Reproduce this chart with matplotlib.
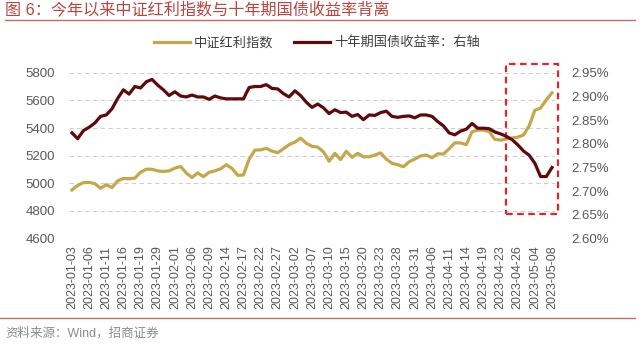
import matplotlib
matplotlib.use("Agg")
import matplotlib.pyplot as plt
from matplotlib.patches import Rectangle

plt.rcParams['font.family'] = ['Liberation Sans', 'Noto Sans CJK SC', 'DejaVu Sans']

# trading days, 2023
dates = [
    "2023-01-03", "2023-01-04", "2023-01-05", "2023-01-06", "2023-01-09", "2023-01-10",
    "2023-01-11", "2023-01-12", "2023-01-13", "2023-01-16", "2023-01-17", "2023-01-18",
    "2023-01-19", "2023-01-20", "2023-01-28", "2023-01-29", "2023-01-30", "2023-01-31",
    "2023-02-01", "2023-02-02", "2023-02-03", "2023-02-06", "2023-02-07", "2023-02-08",
    "2023-02-09", "2023-02-10", "2023-02-13", "2023-02-14", "2023-02-15", "2023-02-16",
    "2023-02-17", "2023-02-20", "2023-02-21", "2023-02-22", "2023-02-23", "2023-02-24",
    "2023-02-27", "2023-02-28", "2023-03-01", "2023-03-02", "2023-03-03", "2023-03-06",
    "2023-03-07", "2023-03-08", "2023-03-09", "2023-03-10", "2023-03-13", "2023-03-14",
    "2023-03-15", "2023-03-16", "2023-03-17", "2023-03-20", "2023-03-21", "2023-03-22",
    "2023-03-23", "2023-03-24", "2023-03-27", "2023-03-28", "2023-03-29", "2023-03-30",
    "2023-03-31", "2023-04-03", "2023-04-04", "2023-04-06", "2023-04-07", "2023-04-10",
    "2023-04-11", "2023-04-12", "2023-04-13", "2023-04-14", "2023-04-17", "2023-04-18",
    "2023-04-19", "2023-04-20", "2023-04-21", "2023-04-23", "2023-04-24", "2023-04-25",
    "2023-04-26", "2023-04-27", "2023-04-28", "2023-05-04", "2023-05-05", "2023-05-06",
    "2023-05-08",
]

# 中证红利指数 (left axis)
dividend = [
    4952, 4985, 5005, 5007, 4998, 4964, 4990, 4969, 5018, 5035,
    5033, 5038, 5080, 5102, 5102, 5090, 5086, 5090, 5110, 5122,
    5075, 5042, 5076, 5048, 5080, 5090, 5105, 5135, 5108, 5058,
    5060, 5175, 5240, 5242, 5253, 5233, 5222, 5250, 5280, 5298,
    5327, 5290, 5268, 5262, 5228, 5160, 5217, 5172, 5232, 5188,
    5217, 5192, 5192, 5205, 5220, 5175, 5145, 5135, 5120, 5156,
    5176, 5198, 5205, 5185, 5214, 5212, 5250, 5293, 5292, 5280,
    5373, 5385, 5385, 5375, 5318, 5313, 5320, 5328, 5334, 5350,
    5415, 5529, 5545, 5605, 5655,
]

# 十年期国债收益率 (right axis, %)
cgb10y = [
    2.823, 2.811, 2.828, 2.835, 2.844, 2.858, 2.861, 2.874, 2.896, 2.914,
    2.905, 2.921, 2.918, 2.931, 2.936, 2.924, 2.914, 2.902, 2.910, 2.901,
    2.899, 2.903, 2.899, 2.899, 2.894, 2.901, 2.897, 2.895, 2.895, 2.895,
    2.895, 2.919, 2.921, 2.921, 2.925, 2.917, 2.916, 2.906, 2.899, 2.912,
    2.902, 2.888, 2.877, 2.884, 2.876, 2.864, 2.872, 2.866, 2.867, 2.858,
    2.862, 2.851, 2.861, 2.860, 2.866, 2.869, 2.858, 2.856, 2.858, 2.859,
    2.855, 2.861, 2.861, 2.858, 2.847, 2.838, 2.823, 2.819, 2.827, 2.831,
    2.843, 2.833, 2.833, 2.832, 2.825, 2.821, 2.816, 2.809, 2.798, 2.785,
    2.776, 2.759, 2.731, 2.731, 2.750,
]

left_ticks = [4600, 4800, 5000, 5200, 5400, 5600, 5800]
right_ticks = [2.60, 2.65, 2.70, 2.75, 2.80, 2.85, 2.90, 2.95]

gold = '#C6A64B'
maroon = '#5E0A0A'
grey = '#595959'
title_red = '#B8453F'

fig = plt.figure(figsize=(6.4, 3.44), dpi=100)
ax = fig.add_axes([0.108, 0.3064, 0.759, 0.482])
ax2 = ax.twinx()

x = list(range(len(dates)))
l1, = ax.plot(x, dividend, color=gold, lw=2.3, label='中证红利指数')
l2, = ax2.plot(x, cgb10y, color=maroon, lw=2.3, label='十年期国债收益率：右轴')

ax.set_xlim(-0.5, len(dates) - 0.5)
ax.set_ylim(4600, 5800)
ax2.set_ylim(2.60, 2.95)
ax.set_yticks(left_ticks)
ax.set_yticklabels([str(v) for v in left_ticks])
ax2.set_yticks(right_ticks)
ax2.set_yticklabels(['%.2f%%' % v for v in right_ticks])
ax.set_xticks(x[::3])
ax.set_xticklabels(dates[::3], rotation=90)

ax.yaxis.grid(True, color='#D0D0D0', ls=(0, (4, 3)), lw=0.8)
ax.set_axisbelow(True)
for a in (ax, ax2):
    for s in a.spines.values():
        s.set_visible(False)
ax.tick_params(axis='x', length=0, pad=5, labelsize=9, labelcolor=grey)
ax.tick_params(axis='y', length=0, pad=10, labelsize=9.5, labelcolor=grey)
ax2.tick_params(axis='y', length=0, pad=12, labelsize=9.5, labelcolor=grey)

# highlight box over the divergence
box_x0, box_x1 = 76.0, 85.1
box_y0, box_y1 = 4778, 5862
ax.add_patch(Rectangle((box_x0, box_y0), box_x1 - box_x0, box_y1 - box_y0,
                       fill=False, ec='#E0262B', ls=(0, (3, 2)), lw=1.6,
                       clip_on=False, zorder=5))

fig.legend(handles=[l1, l2], loc='center', bbox_to_anchor=(0.495, 0.875), ncol=2,
           frameon=False, fontsize=9.5, handlelength=2.7, columnspacing=1.6,
           handletextpad=0.3, labelcolor='#404040')

fig.text(0.008, 0.972, '图 6：今年以来中证红利指数与十年期国债收益率背离', color=title_red,
         fontsize=11.6, va='center', ha='left')
fig.add_artist(plt.Line2D([0.008, 0.992], [0.942, 0.942], color='#C96A5C', lw=1.0))
fig.add_artist(plt.Line2D([0.0, 0.992], [0.076, 0.076], color='#C96A5C', lw=1.0))
fig.text(0.008, 0.032, '资料来源：Wind，招商证券', color='#8C8C8C', fontsize=9,
         va='center', ha='left')

fig.savefig('out.png', dpi=100)
